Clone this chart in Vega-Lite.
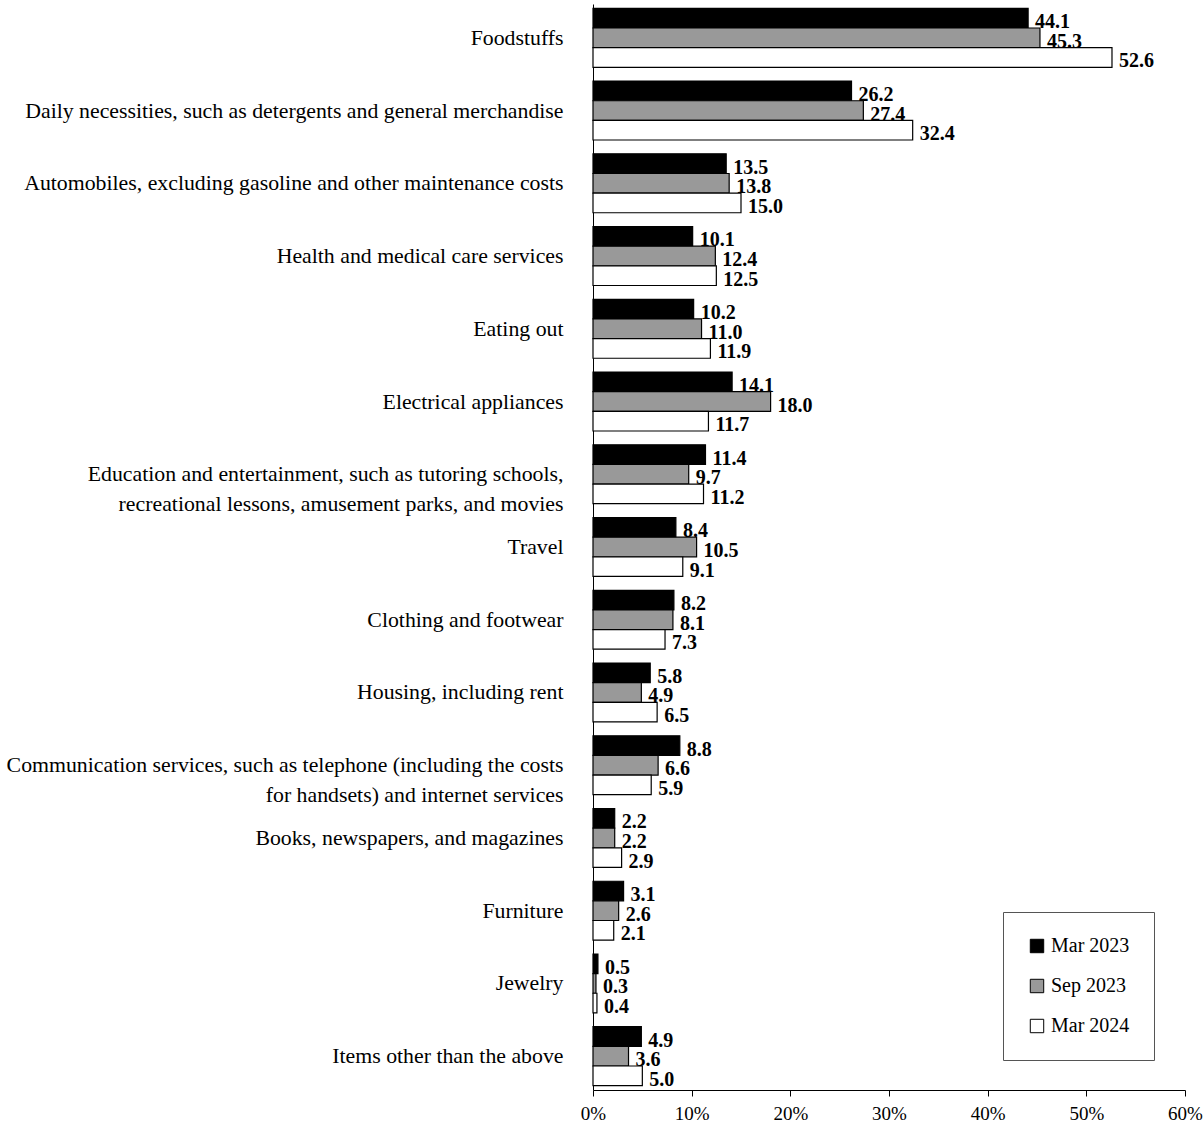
{
  "$schema": "https://vega.github.io/schema/vega-lite/v6.json",
  "width": 592,
  "height": 1086,
  "padding": {"left": 6, "top": 4, "right": 0, "bottom": 5},
  "background": "white",
  "config": {"font": "Liberation Serif", "view": {"stroke": null}},
  "data": {"values": [
    {"item": "Foodstuffs", "s": "Mar 2023", "v": 44.1},
    {"item": "Foodstuffs", "s": "Sep 2023", "v": 45.3},
    {"item": "Foodstuffs", "s": "Mar 2024", "v": 52.6},
    {"item": "Daily necessities, such as detergents and general merchandise", "s": "Mar 2023", "v": 26.2},
    {"item": "Daily necessities, such as detergents and general merchandise", "s": "Sep 2023", "v": 27.4},
    {"item": "Daily necessities, such as detergents and general merchandise", "s": "Mar 2024", "v": 32.4},
    {"item": "Automobiles, excluding gasoline and other maintenance costs", "s": "Mar 2023", "v": 13.5},
    {"item": "Automobiles, excluding gasoline and other maintenance costs", "s": "Sep 2023", "v": 13.8},
    {"item": "Automobiles, excluding gasoline and other maintenance costs", "s": "Mar 2024", "v": 15.0},
    {"item": "Health and medical care services", "s": "Mar 2023", "v": 10.1},
    {"item": "Health and medical care services", "s": "Sep 2023", "v": 12.4},
    {"item": "Health and medical care services", "s": "Mar 2024", "v": 12.5},
    {"item": "Eating out", "s": "Mar 2023", "v": 10.2},
    {"item": "Eating out", "s": "Sep 2023", "v": 11.0},
    {"item": "Eating out", "s": "Mar 2024", "v": 11.9},
    {"item": "Electrical appliances", "s": "Mar 2023", "v": 14.1},
    {"item": "Electrical appliances", "s": "Sep 2023", "v": 18.0},
    {"item": "Electrical appliances", "s": "Mar 2024", "v": 11.7},
    {"item": "Education and entertainment, such as tutoring schools,|recreational lessons, amusement parks, and movies", "s": "Mar 2023", "v": 11.4},
    {"item": "Education and entertainment, such as tutoring schools,|recreational lessons, amusement parks, and movies", "s": "Sep 2023", "v": 9.7},
    {"item": "Education and entertainment, such as tutoring schools,|recreational lessons, amusement parks, and movies", "s": "Mar 2024", "v": 11.2},
    {"item": "Travel", "s": "Mar 2023", "v": 8.4},
    {"item": "Travel", "s": "Sep 2023", "v": 10.5},
    {"item": "Travel", "s": "Mar 2024", "v": 9.1},
    {"item": "Clothing and footwear", "s": "Mar 2023", "v": 8.2},
    {"item": "Clothing and footwear", "s": "Sep 2023", "v": 8.1},
    {"item": "Clothing and footwear", "s": "Mar 2024", "v": 7.3},
    {"item": "Housing, including rent", "s": "Mar 2023", "v": 5.8},
    {"item": "Housing, including rent", "s": "Sep 2023", "v": 4.9},
    {"item": "Housing, including rent", "s": "Mar 2024", "v": 6.5},
    {"item": "Communication services, such as telephone (including the costs|for handsets) and internet services", "s": "Mar 2023", "v": 8.8},
    {"item": "Communication services, such as telephone (including the costs|for handsets) and internet services", "s": "Sep 2023", "v": 6.6},
    {"item": "Communication services, such as telephone (including the costs|for handsets) and internet services", "s": "Mar 2024", "v": 5.9},
    {"item": "Books, newspapers, and magazines", "s": "Mar 2023", "v": 2.2},
    {"item": "Books, newspapers, and magazines", "s": "Sep 2023", "v": 2.2},
    {"item": "Books, newspapers, and magazines", "s": "Mar 2024", "v": 2.9},
    {"item": "Furniture", "s": "Mar 2023", "v": 3.1},
    {"item": "Furniture", "s": "Sep 2023", "v": 2.6},
    {"item": "Furniture", "s": "Mar 2024", "v": 2.1},
    {"item": "Jewelry", "s": "Mar 2023", "v": 0.5},
    {"item": "Jewelry", "s": "Sep 2023", "v": 0.3},
    {"item": "Jewelry", "s": "Mar 2024", "v": 0.4},
    {"item": "Items other than the above", "s": "Mar 2023", "v": 4.9},
    {"item": "Items other than the above", "s": "Sep 2023", "v": 3.6},
    {"item": "Items other than the above", "s": "Mar 2024", "v": 5.0}
  ]},
  "encoding": {
    "y": {"field": "item", "type": "nominal", "sort": null,
      "scale": {"paddingInner": 0.19, "paddingOuter": 0.06},
      "axis": {"title": null, "ticks": false, "domain": true, "domainColor": "black", "labelFontSize": 21.8, "labelColor": "black", "labelPadding": 30, "labelLimit": 700, "labelLineHeight": 30, "labelExpr": "split(datum.label, '|')"}},
    "yOffset": {"field": "s", "type": "nominal", "sort": ["Mar 2023", "Sep 2023", "Mar 2024"]},
    "x": {"field": "v", "type": "quantitative", "scale": {"domain": [0, 60]},
      "axis": {"title": null, "grid": false, "values": [0, 10, 20, 30, 40, 50, 60], "labelOverlap": false, "labelFlush": false, "labelExpr": "datum.value + '%'", "labelFontSize": 19, "labelColor": "black", "domainColor": "black", "tickColor": "black", "tickSize": 6, "labelPadding": 8}}
  },
  "layer": [
    {"mark": {"type": "bar", "stroke": "black", "strokeWidth": 1.2},
      "encoding": {"fill": {"field": "s", "type": "nominal", "sort": ["Mar 2023", "Sep 2023", "Mar 2024"],
        "scale": {"domain": ["Mar 2023", "Sep 2023", "Mar 2024"], "range": ["#000000", "#999999", "#ffffff"]},
        "legend": {"title": null, "orient": "none", "legendX": 410, "legendY": 908, "strokeColor": "#555", "padding": 24, "symbolType": "square", "symbolSize": 180, "symbolStrokeColor": "black", "symbolStrokeWidth": 1, "labelFontSize": 20, "labelColor": "black", "rowPadding": 20, "labelOffset": 4, "columnPadding": 10}}}},
    {"mark": {"type": "text", "align": "left", "dx": 7, "dy": 4, "fontSize": 20, "fontWeight": "bold", "color": "black"},
      "encoding": {"text": {"field": "v", "type": "quantitative", "format": ".1f"}}}
  ]
}
